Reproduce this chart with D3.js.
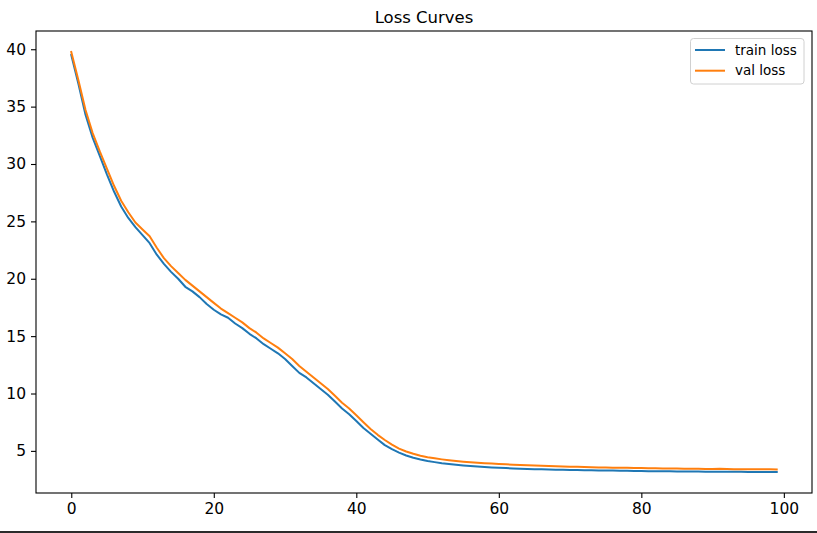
<!DOCTYPE html>
<html><head><meta charset="utf-8">
<script src="https://cdn.jsdelivr.net/npm/d3@7"></script>
<style>
html,body{margin:0;padding:0;background:#fff;}
svg{display:block;font-family:"DejaVu Sans",sans-serif;}
</style></head>
<body><svg id="c" width="817" height="533"></svg>
<script>
const epochs = d3.range(100);
const trainLoss = [39.5,37.0,34.3,32.3,30.7,29.1,27.6,26.3,25.3,24.5,
23.8,23.1,22.1,21.3,20.6,20.0,19.3,18.9,18.4,17.8,
17.3,16.9,16.6,16.1,15.7,15.2,14.8,14.3,13.9,13.5,
13.0,12.4,11.8,11.4,10.9,10.4,9.9,9.3,8.7,8.2,
7.6,7.0,6.5,6.0,5.5,5.15,4.85,4.6,4.4,4.25,
4.12,4.02,3.93,3.86,3.79,3.73,3.68,3.64,3.60,3.56,
3.53,3.50,3.47,3.45,3.43,3.41,3.39,3.38,3.36,3.35,
3.34,3.33,3.32,3.31,3.29,3.28,3.28,3.27,3.26,3.25,
3.24,3.23,3.23,3.22,3.22,3.21,3.21,3.20,3.20,3.19,
3.19,3.19,3.18,3.18,3.18,3.17,3.17,3.17,3.16,3.16];
const valLoss = [39.76,37.3,34.7,32.7,31.1,29.6,28.1,26.8,25.8,24.9,
24.3,23.7,22.7,21.8,21.1,20.5,19.9,19.4,18.9,18.4,
17.9,17.4,17.0,16.6,16.2,15.7,15.3,14.8,14.4,14.0,
13.5,13.0,12.4,11.9,11.4,10.9,10.4,9.8,9.2,8.7,
8.1,7.5,6.9,6.4,5.95,5.55,5.2,4.95,4.75,4.58,
4.45,4.35,4.26,4.18,4.11,4.05,4.00,3.96,3.92,3.89,
3.86,3.83,3.80,3.77,3.74,3.72,3.70,3.68,3.66,3.64,
3.62,3.61,3.59,3.58,3.56,3.55,3.54,3.53,3.52,3.51,
3.50,3.49,3.48,3.47,3.47,3.46,3.45,3.44,3.44,3.43,
3.43,3.44,3.42,3.41,3.41,3.40,3.40,3.39,3.39,3.38];
const xTicks = [0,20,40,60,80,100];
const yTicks = [5,10,15,20,25,30,35,40];
const seriesNames = ["train loss","val loss"];
const seriesColors = ["#1f77b4","#ff7f0e"];
const titleText = "Loss Curves";

const svg = d3.select("#c");
const L = 36, R = 812, T = 31, B = 493;
const allV = trainLoss.concat(valLoss);
const vmin = d3.min(allV), vmax = d3.max(allV), vr = vmax - vmin;
const x = d3.scaleLinear().domain([-4.95, 103.95]).range([L, R]);
const y = d3.scaleLinear().domain([vmin - 0.05*vr, vmax + 0.05*vr]).range([B, T]);

svg.append("rect").attr("x",0).attr("y",0).attr("width",817).attr("height",533).attr("fill","#fff");

const line = d3.line().x((d,i)=>x(epochs[i])).y(d=>y(d));
[trainLoss, valLoss].forEach((s,k)=>{
  svg.append("path").datum(s).attr("d",line).attr("fill","none")
    .attr("stroke",seriesColors[k]).attr("stroke-width",2).attr("stroke-linejoin","round").attr("stroke-linecap","square");
});

const xAxis = svg.append("g").attr("transform",`translate(0,${B})`)
  .call(d3.axisBottom(x).tickValues(xTicks).tickSize(5).tickPadding(5).tickFormat(d3.format("d")));
const yAxis = svg.append("g").attr("transform",`translate(${L},0)`)
  .call(d3.axisLeft(y).tickValues(yTicks).tickSize(5).tickPadding(5).tickFormat(d3.format("d")));
[xAxis,yAxis].forEach(g=>{
  g.select(".domain").remove();
  g.selectAll("line").attr("stroke","#000").attr("stroke-width",1.1);
  g.selectAll("text").attr("fill","#000").style("font-size","15.5px").style("font-family","DejaVu Sans");
});

svg.append("rect").attr("x",L).attr("y",T).attr("width",R-L).attr("height",B-T)
  .attr("fill","none").attr("stroke","#000").attr("stroke-width",1.1);

svg.append("text").attr("x",(L+R)/2).attr("y",T-8).attr("text-anchor","middle")
  .style("font-size","16.5px").attr("fill","#000").text(titleText);

const lg = svg.append("g");
lg.append("rect").attr("x",690.5).attr("y",38.5).attr("width",113.5).attr("height",45.5)
  .attr("rx",3).attr("fill","#fff").attr("fill-opacity",0.8).attr("stroke","#d0d0d0").attr("stroke-width",1);
seriesNames.forEach((n,k)=>{
  const yy = 50 + k*20.7;
  lg.append("line").attr("x1",695).attr("x2",725).attr("y1",yy).attr("y2",yy)
    .attr("stroke",seriesColors[k]).attr("stroke-width",2);
  lg.append("text").attr("x",735).attr("y",yy).attr("dy","0.35em")
    .style("font-size","13.5px").attr("fill","#000").text(n);
});

svg.append("rect").attr("x",0).attr("y",531).attr("width",817).attr("height",2).attr("fill","#2b2b2b");
</script></body></html>
